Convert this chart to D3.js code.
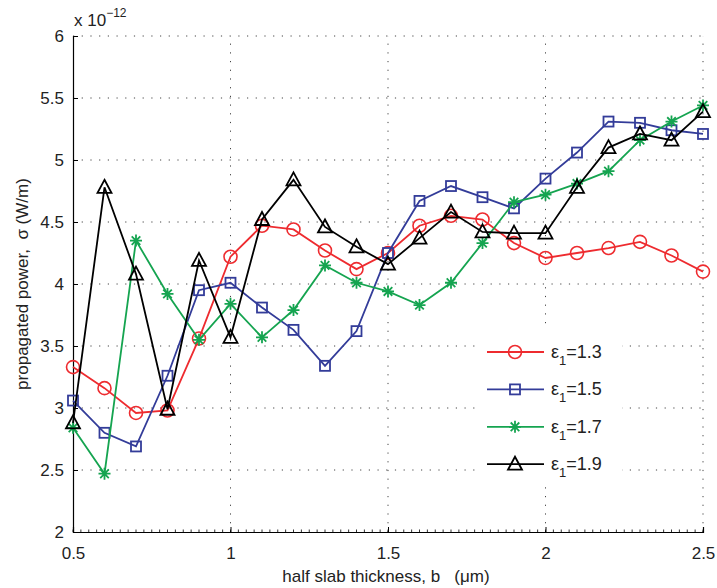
<!DOCTYPE html>
<html>
<head>
    <script src="https://d3js.org/d3.v7.min.js"></script>
    <style>
        body { margin: 0; background: #fff; }
        svg text { font-family: "Liberation Sans", Arial, Helvetica, sans-serif; fill: #222; white-space: pre; }
    </style>
</head>
<body>
    <svg id="chart" width="717" height="588"></svg>

    <script>
        // half slab thickness b (um)
        var thickness = [0.5, 0.6, 0.7, 0.8, 0.9, 1.0, 1.1, 1.2, 1.3, 1.4, 1.5, 1.6, 1.7, 1.8, 1.9, 2.0, 2.1, 2.2, 2.3, 2.4, 2.5];

        // propagated power, units of 1e-12 W/m
        var eps13 = [3.33, 3.16, 2.96, 2.98, 3.56, 4.22, 4.47, 4.44, 4.27, 4.12, 4.25, 4.47, 4.55, 4.52, 4.33, 4.21, 4.25, 4.29, 4.34, 4.23, 4.10];
        var eps15 = [3.06, 2.80, 2.69, 3.26, 3.95, 4.01, 3.81, 3.63, 3.34, 3.62, 4.25, 4.67, 4.79, 4.70, 4.61, 4.85, 5.06, 5.31, 5.30, 5.24, 5.21];
        var eps17 = [2.84, 2.47, 4.35, 3.92, 3.55, 3.84, 3.57, 3.79, 4.15, 4.01, 3.94, 3.83, 4.01, 4.33, 4.66, 4.72, 4.81, 4.91, 5.16, 5.31, 5.44];
        var eps19 = [2.88, 4.78, 4.08, 2.99, 4.19, 3.57, 4.52, 4.84, 4.46, 4.30, 4.16, 4.37, 4.58, 4.42, 4.41, 4.41, 4.78, 5.10, 5.21, 5.16, 5.39];

        var seriesNames = ["1.3", "1.5", "1.7", "1.9"];
        var xTicks = [0.5, 1, 1.5, 2, 2.5];
        var yTicks = [2, 2.5, 3, 3.5, 4, 4.5, 5, 5.5, 6];

        var series = [
            { name: seriesNames[0], values: eps13, color: "#ee2b2f", marker: "circle" },
            { name: seriesNames[1], values: eps15, color: "#333c99", marker: "square" },
            { name: seriesNames[2], values: eps17, color: "#15a450", marker: "star" },
            { name: seriesNames[3], values: eps19, color: "#000000", marker: "triangle" }
        ];

        var xScale = d3.scaleLinear().domain([0.5, 2.5]).range([73, 703]);
        var yScale = d3.scaleLinear().domain([2, 6]).range([532, 36]);

        var svg = d3.select("#chart");

        // grid (dotted)
        var grid = svg.append("g").attr("stroke", "#444").attr("stroke-width", 1).attr("stroke-dasharray", "1.2 7.5");
        grid.selectAll(".gx").data(xTicks.slice(1)).enter().append("line")
            .attr("x1", d => xScale(d)).attr("x2", d => xScale(d))
            .attr("y1", yScale(2)).attr("y2", yScale(6));
        grid.selectAll(".gy").data(yTicks.slice(1)).enter().append("line")
            .attr("x1", xScale(0.5)).attr("x2", xScale(2.5))
            .attr("y1", d => yScale(d)).attr("y2", d => yScale(d));

        // axes (left and bottom only, ticks inward)
        var xAxis = d3.axisBottom(xScale).tickValues(xTicks).tickSize(-5).tickFormat(d3.format("")).tickPadding(12);
        var gx = svg.append("g").attr("transform", "translate(0," + yScale(2) + ")").call(xAxis);
        var minor = d3.range(0.5, 2.5001, 0.025);
        gx.selectAll(".minor").data(minor).enter().append("line").attr("class", "minor")
            .attr("x1", d => xScale(d)).attr("x2", d => xScale(d)).attr("y1", 0).attr("y2", -2.5)
            .attr("stroke", "#000").attr("stroke-width", 0.8);

        var yAxis = d3.axisLeft(yScale).tickValues(yTicks).tickSize(-5).tickFormat(d3.format("")).tickPadding(12);
        var gy = svg.append("g").attr("transform", "translate(" + xScale(0.5) + ",0)").call(yAxis);

        [gx, gy].forEach(g => {
            g.select(".domain").attr("stroke", "#000").attr("stroke-width", 1.2);
            g.selectAll(".tick line").attr("stroke", "#000");
            g.selectAll(".tick text").style("font-size", "17px").attr("fill", "#222");
        });
        gx.selectAll(".tick text").attr("dy", "0.9em");
        gy.selectAll(".tick text").attr("dx", "3px");

        // exponent
        var ex = svg.append("text").attr("x", 74).attr("y", 26).style("font-size", "17px").text("x 10");
        ex.append("tspan").attr("dy", -9).style("font-size", "12px").text("\u221212");

        // axis labels
        svg.append("text").attr("text-anchor", "middle").attr("x", 386).attr("y", 582)
            .style("font-size", "17px").text("half slab thickness, b   (\u03bcm)");
        svg.append("text").attr("text-anchor", "middle").attr("transform", "translate(28,284)rotate(-90)")
            .style("font-size", "17px").text("propagated power,  \u03c3 (W/m)");

        // marker drawing
        function drawMarker(g, type, color) {
            if (type === "circle") {
                g.append("circle").attr("r", 6.5).attr("fill", "none").attr("stroke", color).attr("stroke-width", 1.6);
            } else if (type === "square") {
                g.append("rect").attr("x", -5).attr("y", -5).attr("width", 10).attr("height", 10)
                    .attr("fill", "none").attr("stroke", color).attr("stroke-width", 1.8);
            } else if (type === "triangle") {
                g.append("path").attr("d", "M0,-7.5L7,5.5L-7,5.5Z").attr("fill", "none").attr("stroke", color).attr("stroke-width", 1.8);
            } else {
                g.append("path").attr("d", "M0,-6V6M-6,0H6M-4.3,-4.3L4.3,4.3M-4.3,4.3L4.3,-4.3")
                    .attr("stroke", color).attr("stroke-width", 1.8);
            }
        }

        var line = d3.line().x((d, i) => xScale(thickness[i])).y(d => yScale(d));

        series.forEach(s => {
            var g = svg.append("g");
            g.append("path").attr("d", line(s.values)).attr("fill", "none").attr("stroke", s.color).attr("stroke-width", 1.8);
            s.values.forEach((v, i) => {
                var m = g.append("g").attr("transform", "translate(" + xScale(thickness[i]) + "," + yScale(v) + ")");
                drawMarker(m, s.marker, s.color);
            });
        });

        // legend
        svg.append("rect").attr("x", 480).attr("y", 325).attr("width", 142).attr("height", 162).attr("fill", "#fff");
        var legend = svg.selectAll(".legend").data(series).enter().append("g").attr("class", "legend")
            .attr("transform", (d, i) => "translate(487," + (352 + 37.4 * i) + ")");
        legend.append("line").attr("x1", 0).attr("x2", 57).attr("stroke", d => d.color).attr("stroke-width", 1.8);
        legend.each(function (d) {
            var m = d3.select(this).append("g").attr("transform", "translate(28,0)");
            drawMarker(m, d.marker, d.color);
        });
        var lt = legend.append("text").attr("x", 64).attr("y", 6).style("font-size", "18px");
        lt.append("tspan").text("\u03b5");
        lt.append("tspan").attr("dy", 7).style("font-size", "13px").text("1");
        lt.append("tspan").attr("dy", -7).text(d => "=" + d.name);
    </script>
</body>
</html>
